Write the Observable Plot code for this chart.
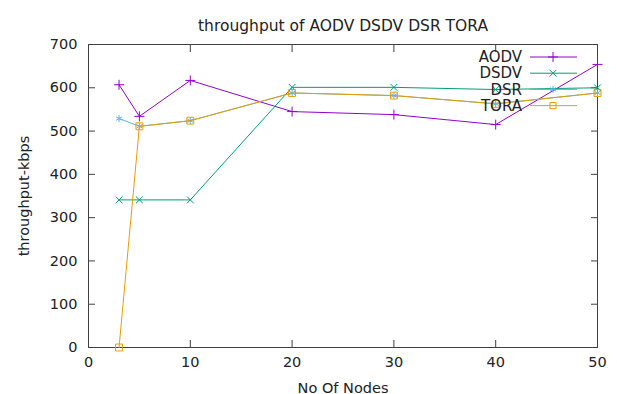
<!DOCTYPE html>
<html>
<head>
<meta charset="utf-8">
<script src="https://cdn.jsdelivr.net/npm/d3@7"></script>
<script src="https://cdn.jsdelivr.net/npm/@observablehq/plot@0.6"></script>
<style>
  html, body { margin: 0; padding: 0; background: #fff; }
  #chart { width: 617px; height: 394px; }
</style>
</head>
<body>
<div id="chart"></div>
<script>
const title = "throughput of AODV DSDV DSR TORA";
const xLabel = "No Of Nodes";
const yLabel = "throughput-kbps";
const nodes = [3, 5, 10, 20, 30, 40, 50];
const aodv = [607, 534, 617, 545, 538, 515, 654];
const dsdv = [341, 341, 341, 601, 601, 596, 600];
const dsr  = [529, 511, 524, 588, 582, 563, 588];
const tora = [0, 511, 524, 588, 582, 563, 588];
const xTicks = [0, 10, 20, 30, 40, 50];
const yTicks = [0, 100, 200, 300, 400, 500, 600, 700];
const seriesNames = ["AODV", "DSDV", "DSR", "TORA"];
const seriesValues = [aodv, dsdv, dsr, tora];
const seriesColors = ["#9400d3", "#009e73", "#56b4e9", "#e69f00"];
const seriesSymbols = ["plus", "times", "asterisk", "square"];
const symbolRadius = [3.3, 3.2, 3.2, 3.9];

const rows = [];
seriesNames.forEach((s, i) => nodes.forEach((n, j) => rows.push({series: s, nodes: n, value: seriesValues[i][j]})));

const font = "DejaVu Sans, sans-serif";
const axisColor = "#404040";

const marks = [
  Plot.frame({stroke: axisColor, strokeWidth: 1}),
  Plot.axisX({ticks: xTicks, tickSize: -7, tickPadding: 16, fontSize: 14.5, label: xLabel, labelAnchor: "center", labelArrow: "none", labelOffset: 45, stroke: axisColor}),
  Plot.axisX({anchor: "top", ticks: xTicks, tickSize: -7, tickFormat: () => "", label: null, stroke: axisColor}),
  Plot.axisY({ticks: yTicks, tickSize: -7, tickPadding: 18, fontSize: 14.5, label: yLabel, labelAnchor: "center", labelArrow: "none", labelOffset: 70, stroke: axisColor}),
  Plot.axisY({anchor: "right", ticks: yTicks, tickSize: -7, tickFormat: () => "", label: null, stroke: axisColor})
];
seriesNames.forEach((s, i) => {
  const d = rows.filter(r => r.series === s);
  marks.push(Plot.line(d, {x: "nodes", y: "value", stroke: seriesColors[i], strokeWidth: 1}));
  marks.push(Plot.dot(d, {x: "nodes", y: "value", stroke: seriesColors[i], symbol: seriesSymbols[i], r: symbolRadius[i], strokeWidth: 1}));
});
marks.push(Plot.text([title], {frameAnchor: "top", dy: -25, fontSize: 15.5, fill: "#222"}));

const chart = Plot.plot({
  width: 617,
  height: 394,
  marginTop: 44,
  marginRight: 20,
  marginBottom: 47,
  marginLeft: 88,
  style: {fontFamily: font, fontSize: "14.5px", color: "#222", background: "#fff"},
  x: {domain: [0, 50]},
  y: {domain: [0, 700]},
  marks
});
document.getElementById("chart").appendChild(chart);

// Legend (key) inside top-right, drawn like gnuplot's key
const svg = d3.select(chart);
const key = svg.append("g").attr("font-family", font).attr("font-size", 15);
const symMap = {plus: d3.symbolPlus, times: d3.symbolTimes, asterisk: d3.symbolAsterisk, square: d3.symbolSquare2};
seriesNames.forEach((s, i) => {
  const y = 57 + i * 16.2;
  key.append("text").attr("x", 522).attr("y", y).attr("dy", "0.35em").attr("text-anchor", "end").attr("fill", "#222").text(s);
  key.append("line").attr("x1", 530).attr("x2", 577).attr("y1", y).attr("y2", y).attr("stroke", seriesColors[i]).attr("stroke-width", 1);
  key.append("path").attr("transform", `translate(553,${y})`).attr("d", d3.symbol(symMap[seriesSymbols[i]], Math.PI * symbolRadius[i] ** 2)()).attr("fill", "none").attr("stroke", seriesColors[i]).attr("stroke-width", 1);
});
</script>
</body>
</html>
